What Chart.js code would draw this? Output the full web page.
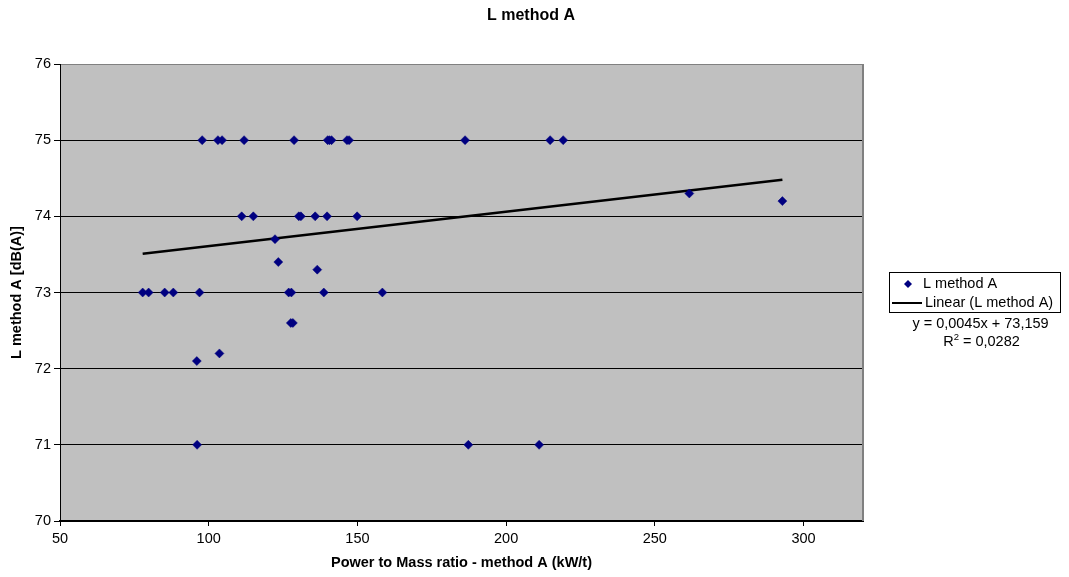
<!DOCTYPE html>
<html>
<head>
<meta charset="utf-8">
<script src="https://cdn.jsdelivr.net/npm/chart.js@4/dist/chart.umd.min.js"></script>
<style>
  html, body { margin: 0; padding: 0; background: #fff; }
  #wrap { width: 1069px; height: 577px; }
</style>
</head>
<body>
<div id="wrap"><canvas id="chart" width="1069" height="577"></canvas></div>
<script>
// values (x = power to mass ratio, y = L method A)
const xValues = [97.8, 103.1, 104.5, 111.9, 128.7, 140.0, 140.6, 141.3, 146.5, 147.2, 186.2, 214.8, 219.2,
                 111.1, 115.0, 130.3, 131.0, 135.8, 139.8, 149.9,
                 261.6, 292.9, 122.3, 123.4, 136.5,
                 77.8, 79.8, 85.2, 88.1, 96.9, 126.9, 127.8, 138.7, 158.4,
                 127.6, 128.3, 103.6, 96.0,
                 96.1, 187.3, 211.1];
const yValues = [75, 75, 75, 75, 75, 75, 75, 75, 75, 75, 75, 75, 75,
                 74, 74, 74, 74, 74, 74, 74,
                 74.3, 74.2, 73.7, 73.4, 73.3,
                 73, 73, 73, 73, 73, 73, 73, 73, 73,
                 72.6, 72.6, 72.2, 72.1,
                 71, 71, 71];

// trend line end points, as drawn
const trendX = [77.8, 292.9];
const trendY = [73.51, 74.48];

const xTicks = [50, 100, 150, 200, 250, 300];
const yTicks = [70, 71, 72, 73, 74, 75, 76];

const chartTitle = 'L method A';
const xTitle = 'Power to Mass ratio - method A (kW/t)';
const yTitle = 'L method A [dB(A)]';
const seriesName = 'L method A';
const trendName = 'Linear (L method A)';
const trendEquation = 'y = 0,0045x + 73,159';
const trendR2 = '0,0282';

const FONT = '"Liberation Sans", Arial, sans-serif';
const NAVY = '#000080';

const points = xValues.map((x, i) => ({ x: x, y: yValues[i] }));
const trend = trendX.map((x, i) => ({ x: x, y: trendY[i] }));

function diamond(ctx, x, y, r) {
    ctx.beginPath();
    ctx.moveTo(x, y - r);
    ctx.lineTo(x + r, y);
    ctx.lineTo(x, y + r);
    ctx.lineTo(x - r, y);
    ctx.closePath();
    ctx.fill();
}

// plot background, frame, title and the Excel style legend
const excelFrame = {
    id: 'excelFrame',
    beforeDraw(c) {
        const { ctx, chartArea: a } = c;
        ctx.save();
        ctx.fillStyle = '#fff';
        ctx.fillRect(0, 0, c.width, c.height);
        ctx.fillStyle = '#c0c0c0';
        ctx.fillRect(a.left, a.top, a.right - a.left, a.bottom - a.top);
        ctx.restore();
    },
    beforeDatasetsDraw(c) {
        const { ctx, chartArea: a } = c;
        ctx.save();
        ctx.strokeStyle = '#808080';
        ctx.lineWidth = 2;
        ctx.beginPath();
        ctx.moveTo(a.right, a.top);
        ctx.lineTo(a.right, a.bottom);
        ctx.stroke();
        ctx.restore();
    },
    afterDraw(c) {
        const ctx = c.ctx;
        ctx.save();
        ctx.fillStyle = '#000';
        ctx.textBaseline = 'middle';

        ctx.font = 'bold 16px ' + FONT;
        ctx.textAlign = 'center';
        ctx.fillText(chartTitle, 531, 16);

        // legend box
        ctx.fillStyle = '#fff';
        ctx.fillRect(889.5, 272.5, 171, 40);
        ctx.strokeStyle = '#000';
        ctx.lineWidth = 1;
        ctx.strokeRect(889.5, 272.5, 171, 40);

        ctx.fillStyle = NAVY;
        diamond(ctx, 908, 284, 4);
        ctx.strokeStyle = '#000';
        ctx.lineWidth = 2;
        ctx.beginPath();
        ctx.moveTo(892, 303);
        ctx.lineTo(922, 303);
        ctx.stroke();

        ctx.fillStyle = '#000';
        ctx.font = '14.5px ' + FONT;
        ctx.textAlign = 'left';
        ctx.fillText(seriesName, 923, 284);
        ctx.fillText(trendName, 925, 303);

        ctx.textAlign = 'center';
        ctx.fillText(trendEquation, 980.5, 324);
        // R² with raised 2
        const left = 'R', right = ' = ' + trendR2;
        const wL = ctx.measureText(left).width;
        const wR = ctx.measureText(right).width;
        ctx.font = '9.5px ' + FONT;
        const w2 = ctx.measureText('2').width;
        const start = 981.5 - (wL + w2 + wR) / 2;
        ctx.textAlign = 'left';
        ctx.fillText('2', start + wL, 337);
        ctx.font = '14.5px ' + FONT;
        ctx.fillText(left, start, 342);
        ctx.fillText(right, start + wL + w2, 342);
        ctx.restore();
    }
};

const chart = new Chart(document.getElementById('chart'), {
    type: 'scatter',
    data: {
        datasets: [{
            label: seriesName,
            data: points,
            pointStyle: 'rectRot',
            pointRadius: 4.5,
            pointBackgroundColor: NAVY,
            pointBorderColor: NAVY,
            pointBorderWidth: 0.5,
            order: 1
        }, {
            type: 'line',
            label: trendName,
            data: trend,
            borderColor: '#000',
            borderWidth: 2.5,
            pointRadius: 0,
            fill: false,
            order: 2
        }]
    },
    options: {
        responsive: false,
        animation: false,
        devicePixelRatio: 1,
        layout: { padding: { top: 64, right: 206, bottom: 0, left: 0 } },
        plugins: {
            legend: { display: false },
            title: { display: false },
            tooltip: { enabled: false }
        },
        scales: {
            x: {
                type: 'linear',
                min: 50,
                max: 320,
                afterBuildTicks: s => { s.ticks = xTicks.map(v => ({ value: v })); },
                afterFit: s => { s.height = 56; },
                grid: { drawOnChartArea: false, drawTicks: true, tickLength: 5, color: '#000' },
                border: { color: '#000', width: 2 },
                ticks: { color: '#000', padding: 4, font: { family: FONT, size: 14.5 } },
                title: {
                    display: true, text: xTitle, color: '#000',
                    font: { family: FONT, size: 14.5, weight: 'bold' },
                    padding: { top: 0, bottom: 5 }
                }
            },
            y: {
                type: 'linear',
                min: 70,
                max: 76,
                afterBuildTicks: s => { s.ticks = yTicks.map(v => ({ value: v })); },
                afterFit: s => { s.width = 60; },
                grid: {
                    drawTicks: true, tickLength: 6, lineWidth: 1,
                    color: ctx => (ctx.tick && ctx.tick.value === 76 ? '#808080' : '#000'),
                    tickColor: '#000'
                },
                border: { color: '#000', width: 1 },
                ticks: { color: '#000', padding: 3, font: { family: FONT, size: 14.5 } },
                title: {
                    display: true, text: yTitle, color: '#000',
                    font: { family: FONT, size: 14.5, weight: 'bold' },
                    padding: { top: 8, bottom: 0 }
                }
            }
        }
    },
    plugins: [excelFrame]
});
</script>
</body>
</html>
